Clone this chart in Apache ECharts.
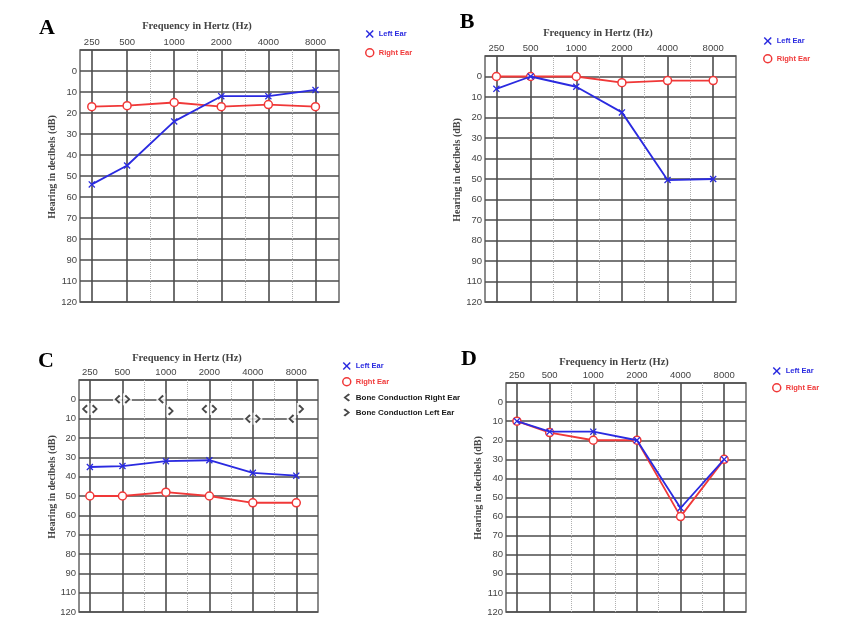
<!DOCTYPE html>
<html><head><meta charset="utf-8">
<script src="https://cdn.jsdelivr.net/npm/echarts@6/dist/echarts.min.js"></script>
<style>html,body{margin:0;padding:0;background:#fff}#c{width:853px;height:633px}</style>
</head><body><div id="c"></div>
<script>
// ---- data ----
const freqLabels = ['250','500','1000','2000','4000','8000'];
const freqSlots = [1,4,8,12,16,20];      // quarter-octave slot of each test frequency
const midSlots = [6,10,14,18];           // mid-octave (750,1500,3000,6000)
const slotCount = 23;
const yTickLabels = ['', '0','10','20','30','40','50','60','70','80','90','110','120'];

const leftA  = [54, 45, 24, 12, 12, 9];
const rightA = [17, 16.5, 15, 17, 16, 17];
const leftB  = [6, 0, 5, 17.5, 50.5, 50];
const rightB = [0, 0, 0, 3, 2, 2];
const leftC  = [35, 34.5, 32, 31.5, 38, 39.5];
const rightC = [50, 50, 48, 50, 53.5, 53.5];
const boneRightC = [5, 0, 0, 5, 10, 10];
const boneLeftC  = [5, 0, 6, 5, 10, 5];
const leftD  = [10, 15.5, 15.5, 20, 55.5, 30];
const rightD = [10, 16, 20, 20, 60, 30];

// ---- styles ----
const BLUE = '#2a2ae0', RED = '#f03838', GRID = '#4c4c4c';
const xPath = 'path://M0,1.3L1.3,0L5,3.7L8.7,0L10,1.3L6.3,5L10,8.7L8.7,10L5,6.3L1.3,10L0,8.7L3.7,5Z';
const ltPath = 'path://M7.5,0L10,2L4,6L10,10L7.5,12L0,6Z';
const gtPath = 'path://M2.5,0L10,6L2.5,12L0,10L6,6L0,2Z';

const panels = [
  {key:'A', left:leftA, right:rightA, grid:{left:80,top:50,width:259,height:252}, letter:[47,28], title:[197,26], yname:[52,167], legend:{left:365,top:30,itemGap:10}},
  {key:'B', left:leftB, right:rightB, grid:{left:485,top:56,width:251,height:246}, letter:[467,22], title:[598,33], yname:[457,170], legend:{left:763,top:37,itemGap:9}},
  {key:'C', left:leftC, right:rightC, grid:{left:79,top:380,width:239,height:232}, letter:[46,361], title:[187,358], yname:[52,487], legend:{left:342,top:362,itemGap:7}, bone:true},
  {key:'D', left:leftD, right:rightD, grid:{left:506,top:383,width:240,height:229}, letter:[469,359], title:[614,362], yname:[478,488], legend:{left:772,top:367,itemGap:8}}
];

const slots = Array.from({length: slotCount}, (_, i) => String(i));
const toPairs = arr => freqSlots.map((s, k) => [s, arr[k]]);

const grids = [], xAxes = [], yAxes = [], series = [], legends = [], graphics = [];

panels.forEach((p, i) => {
  grids.push(Object.assign({show:true, borderColor:'#666', borderWidth:1.5, containLabel:false}, p.grid));
  xAxes.push({
    type:'category', gridIndex:i, position:'top', data:slots, boundaryGap:false,
    axisLine:{show:false}, axisTick:{show:false},
    axisLabel:{interval:(idx)=>freqSlots.includes(idx), formatter:(v, idx)=>{const k=freqSlots.indexOf(idx); return k>=0?freqLabels[k]:'';},
      color:'#444', fontSize:9.5, margin:3, fontFamily:'Liberation Sans'},
    splitLine:{show:true, interval:(idx)=>freqSlots.includes(idx), lineStyle:{color:GRID, width:1.6}}
  });
  xAxes.push({
    type:'category', gridIndex:i, position:'top', data:slots, boundaryGap:false,
    axisLine:{show:false}, axisTick:{show:false}, axisLabel:{show:false},
    splitLine:{show:true, interval:(idx)=>midSlots.includes(idx), lineStyle:{color:'#b0b0b0', width:1, type:'dotted'}}
  });
  yAxes.push({
    type:'value', gridIndex:i, inverse:true, min:-10, max:110, interval:10,
    axisLine:{show:false}, axisTick:{show:false},
    axisLabel:{formatter:v=>yTickLabels[Math.round((v+10)/10)], color:'#444', fontSize:9.5, margin:3, fontFamily:'Liberation Sans'},
    splitLine:{show:true, lineStyle:{color:GRID, width:1.6}}
  });

  series.push({
    name:'Right Ear', type:'line', xAxisIndex:2*i, yAxisIndex:i, data:toPairs(p.right),
    symbol:'circle', symbolSize:8, z:3,
    lineStyle:{color:RED, width:1.8}, itemStyle:{color:'#fff', borderColor:RED, borderWidth:1.5}
  });
  series.push({
    name:'Left Ear', type:'line', xAxisIndex:2*i, yAxisIndex:i, data:toPairs(p.left),
    symbol:xPath, symbolSize:7, z:4,
    lineStyle:{color:BLUE, width:1.8}, itemStyle:{color:BLUE}
  });

  const legendData = [
    {name:'Left Ear', icon:xPath, itemStyle:{color:BLUE, borderWidth:0}, textStyle:{color:BLUE}},
    {name:'Right Ear', icon:'circle', itemStyle:{color:'#fff', borderColor:RED, borderWidth:1.5}, textStyle:{color:RED}}
  ];

  if (p.bone) {
    [[boneRightC, -5, 'Bone Conduction Right Ear', ltPath], [boneLeftC, 5, 'Bone Conduction Left Ear', gtPath]].forEach(([arr, off, name, path]) => {
      series.push({
        name:'bg' + off, type:'scatter', xAxisIndex:2*i, yAxisIndex:i, data:toPairs(arr),
        symbol:'rect', symbolSize:[9,12], symbolOffset:[off,0], silent:true, z:2,
        itemStyle:{color:'#fff'}
      });
      series.push({
        name:name, type:'scatter', xAxisIndex:2*i, yAxisIndex:i, data:toPairs(arr),
        symbol:path, symbolSize:[6,9], symbolOffset:[off,0], z:5,
        itemStyle:{color:'#1a1a1a'}
      });
      legendData.push({name:name, icon:path, itemStyle:{color:'#1a1a1a'}, textStyle:{color:'#1a1a1a', fontSize:8}});
    });
  }

  legends.push({
    orient:'vertical', left:p.legend.left, top:p.legend.top, itemGap:p.legend.itemGap,
    itemWidth:8, itemHeight:8, selectedMode:false, padding:0,
    textStyle:{fontSize:7.5, fontWeight:'bold', fontFamily:'Liberation Sans'},
    data:legendData
  });

  graphics.push({type:'text', x:p.letter[0], y:p.letter[1], style:{text:p.key, font:'bold 22px "Liberation Serif"', fill:'#000', align:'center', verticalAlign:'middle'}});
  graphics.push({type:'text', x:p.title[0], y:p.title[1], style:{text:'Frequency in Hertz (Hz)', font:'bold 10.5px "Liberation Serif"', fill:'#444', align:'center', verticalAlign:'middle'}});
  graphics.push({type:'text', x:p.yname[0], y:p.yname[1], rotation:Math.PI/2, style:{text:'Hearing in decibels (dB)', font:'bold 10px "Liberation Serif"', fill:'#444', align:'center', verticalAlign:'middle'}});
});

const chart = echarts.init(document.getElementById('c'), null, {renderer:'canvas'});
chart.setOption({
  animation:false,
  backgroundColor:'#fff',
  grid:grids, xAxis:xAxes, yAxis:yAxes, series:series, legend:legends, graphic:graphics
});
</script>
</body></html>
